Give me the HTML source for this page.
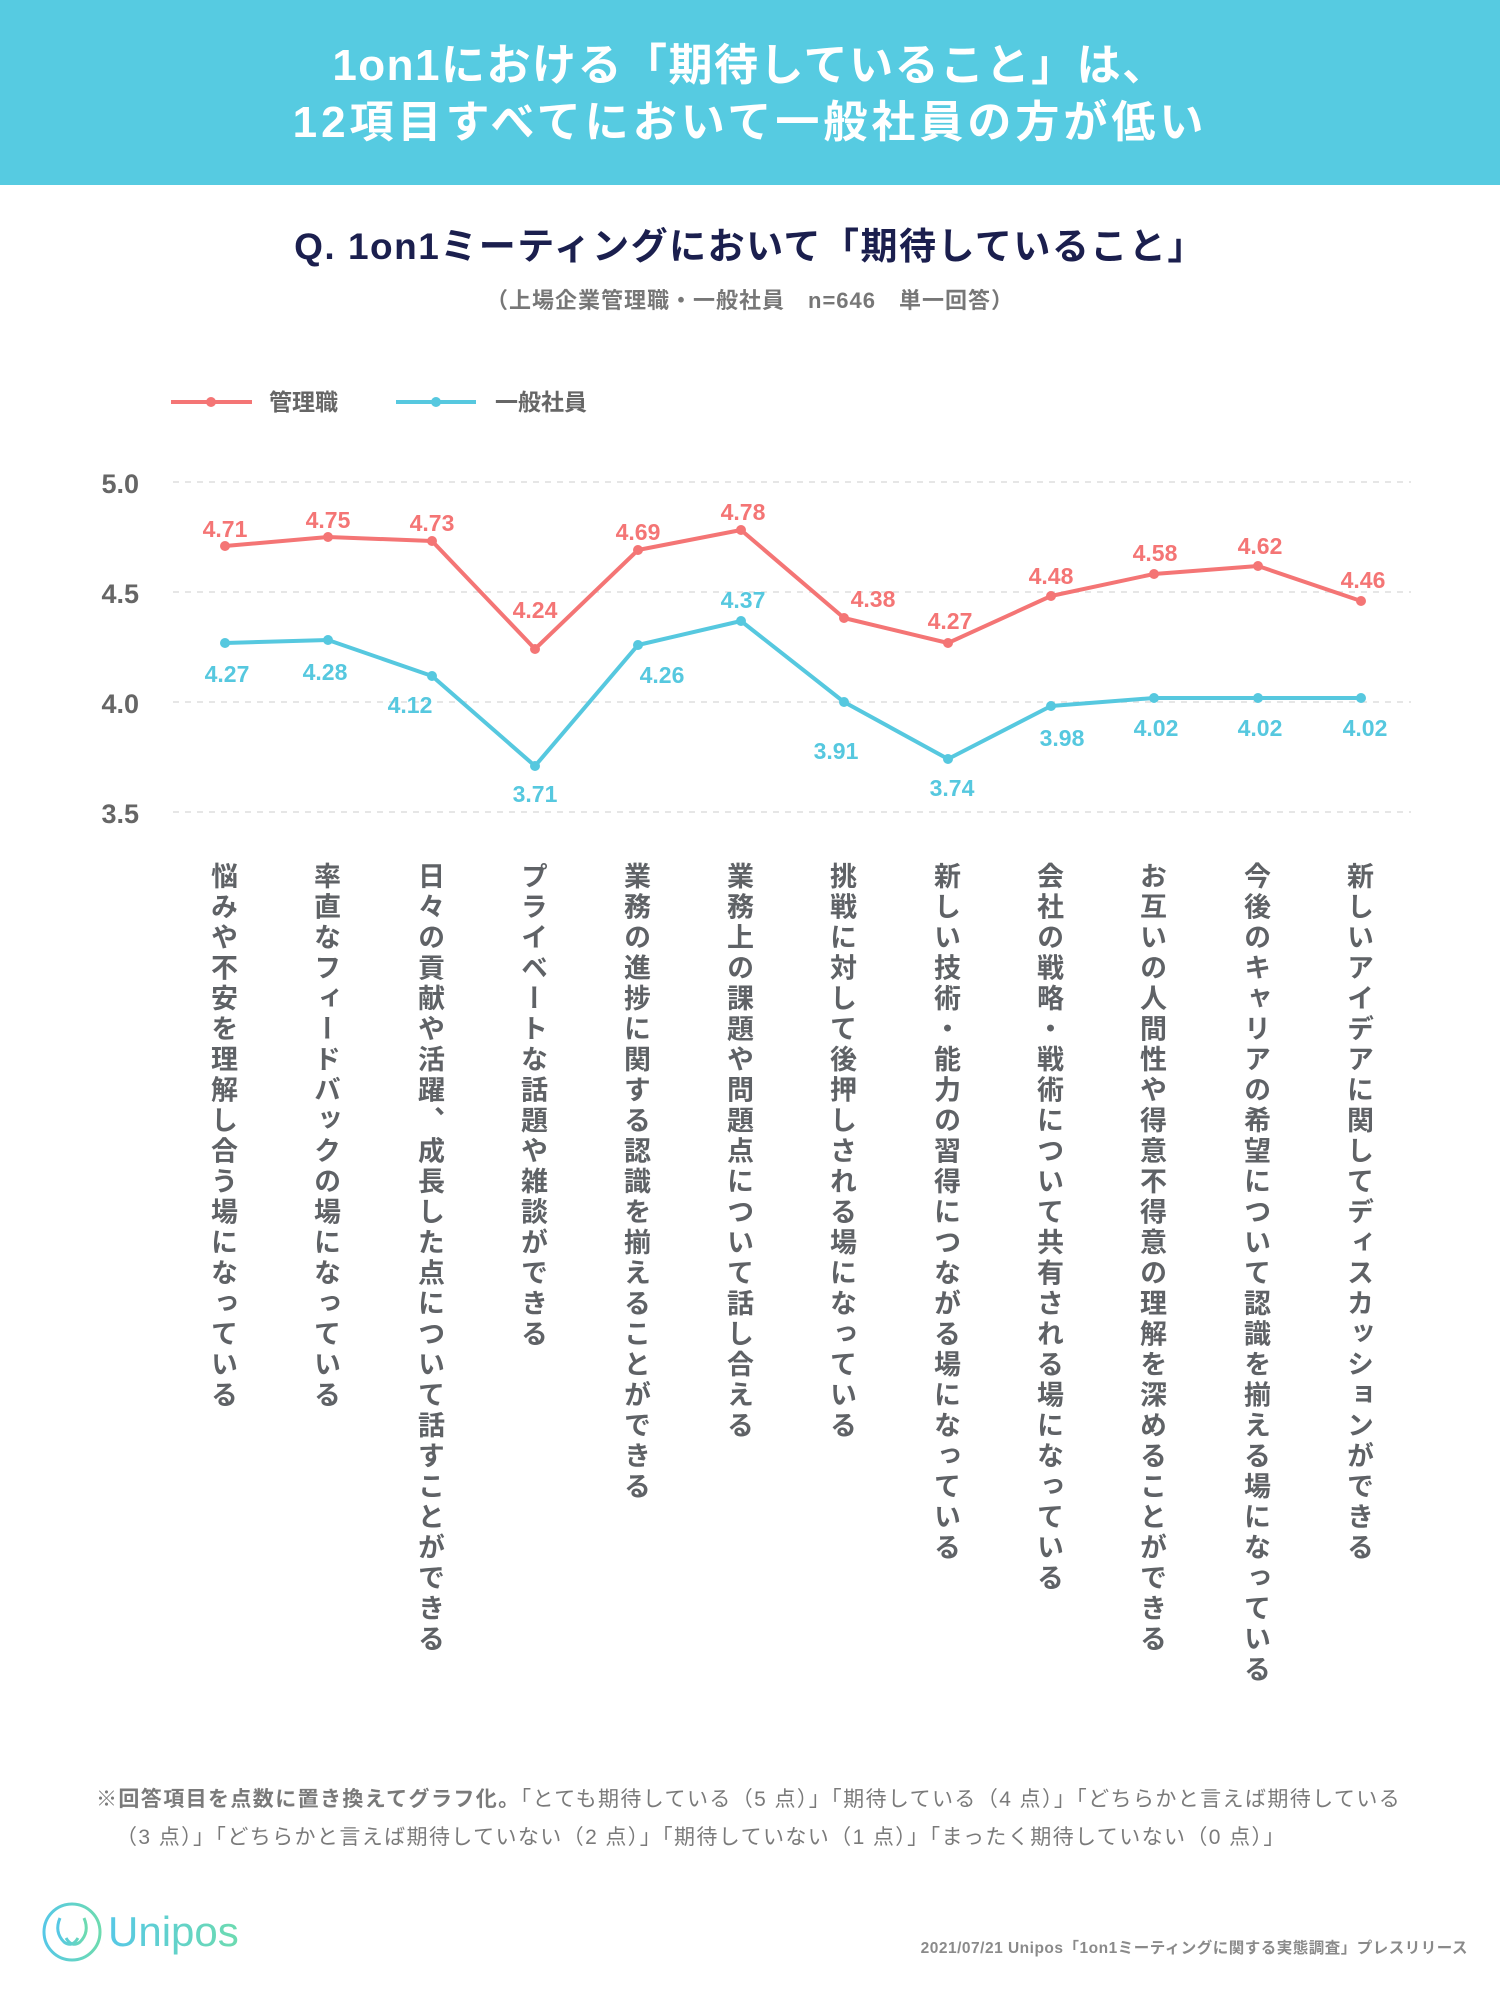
<!DOCTYPE html>
<html><head><meta charset="utf-8">
<style>
body{margin:0;width:1500px;height:1999px;background:#fff;position:relative;overflow:hidden;font-family:"Liberation Sans","Noto Sans CJK JP",sans-serif;}
.hdr{position:absolute;left:0;top:0;width:1500px;height:185px;background:#56cbe1;}
.t{position:absolute;left:0;width:1500px;text-align:center;color:#fff;font-weight:bold;font-size:44px;letter-spacing:4px;line-height:1;}
.q{position:absolute;left:0;width:1500px;text-align:center;color:#1b1f4e;font-weight:bold;font-size:37px;top:228px;line-height:1;letter-spacing:1.5px;}
.s{position:absolute;left:0;width:1500px;text-align:center;color:#777;font-weight:bold;font-size:22px;top:290px;line-height:1;letter-spacing:1px;}
.v{position:absolute;top:862px;writing-mode:vertical-rl;font-size:27px;letter-spacing:3.5px;color:#5f6266;font-weight:bold;line-height:1;}
.fn{position:absolute;left:96px;color:#7a7a7a;font-size:21px;letter-spacing:1.4px;line-height:1;white-space:nowrap;}
</style></head><body>
<div class="hdr"></div>
<div class="t" style="top:44px;letter-spacing:1.5px">1on1における「期待していること」は、</div>
<div class="t" style="top:101px">12項目すべてにおいて一般社員の方が低い</div>
<div class="q">Q. 1on1ミーティングにおいて「期待していること」</div>
<div class="s">（上場企業管理職・一般社員　n=646　単一回答）</div>
<svg width="1500" height="860" style="position:absolute;left:0;top:0" font-family="Liberation Sans, Noto Sans CJK JP, sans-serif">
<g stroke="#f47575" stroke-width="4"><line x1="171" y1="402" x2="252" y2="402"/></g><circle cx="211" cy="402" r="5" fill="#f47575"/>
<g stroke="#56c8df" stroke-width="4"><line x1="396" y1="402" x2="476" y2="402"/></g><circle cx="436" cy="402" r="5" fill="#56c8df"/>
<text x="269" y="410" font-size="23" font-weight="bold" fill="#666">管理職</text>
<text x="495" y="410" font-size="23" font-weight="bold" fill="#666">一般社員</text>
<g stroke="#e6e6e6" stroke-width="2" stroke-dasharray="6,6">
<line x1="173" y1="482" x2="1411" y2="482"/><line x1="173" y1="592" x2="1411" y2="592"/><line x1="173" y1="702" x2="1411" y2="702"/><line x1="173" y1="812" x2="1411" y2="812"/></g>
<g font-size="27" font-weight="bold" fill="#666" text-anchor="end">
<text x="139" y="493">5.0</text><text x="139" y="603">4.5</text><text x="139" y="713">4.0</text><text x="139" y="823">3.5</text></g>
<polyline fill="none" stroke="#f47575" stroke-width="4" stroke-linejoin="round" points="225,546 328,537 432,541 535,649 638,550 741,530 844,618 948,643 1051,596 1154,574 1258,566 1361,601"/>
<polyline fill="none" stroke="#56c8df" stroke-width="4" stroke-linejoin="round" points="225,643 328,640 432,676 535,766 638,645 741,621 844,702 948,759 1051,706 1154,698 1258,698 1361,698"/>
<g fill="#f47575"><circle cx="225" cy="546" r="5"/><circle cx="328" cy="537" r="5"/><circle cx="432" cy="541" r="5"/><circle cx="535" cy="649" r="5"/><circle cx="638" cy="550" r="5"/><circle cx="741" cy="530" r="5"/><circle cx="844" cy="618" r="5"/><circle cx="948" cy="643" r="5"/><circle cx="1051" cy="596" r="5"/><circle cx="1154" cy="574" r="5"/><circle cx="1258" cy="566" r="5"/><circle cx="1361" cy="601" r="5"/></g>
<g fill="#56c8df"><circle cx="225" cy="643" r="5"/><circle cx="328" cy="640" r="5"/><circle cx="432" cy="676" r="5"/><circle cx="535" cy="766" r="5"/><circle cx="638" cy="645" r="5"/><circle cx="741" cy="621" r="5"/><circle cx="844" cy="702" r="5"/><circle cx="948" cy="759" r="5"/><circle cx="1051" cy="706" r="5"/><circle cx="1154" cy="698" r="5"/><circle cx="1258" cy="698" r="5"/><circle cx="1361" cy="698" r="5"/></g>
<g font-size="23" font-weight="bold" fill="#f47575" text-anchor="middle">
<text x="225" y="537">4.71</text><text x="328" y="528">4.75</text><text x="432" y="531">4.73</text><text x="535" y="618">4.24</text><text x="638" y="540">4.69</text><text x="743" y="520">4.78</text><text x="873" y="607">4.38</text><text x="950" y="629">4.27</text><text x="1051" y="584">4.48</text><text x="1155" y="561">4.58</text><text x="1260" y="554">4.62</text><text x="1363" y="588">4.46</text></g>
<g font-size="23" font-weight="bold" fill="#56c8df" text-anchor="middle">
<text x="227" y="682">4.27</text><text x="325" y="680">4.28</text><text x="410" y="713">4.12</text><text x="535" y="802">3.71</text><text x="662" y="683">4.26</text><text x="743" y="608">4.37</text><text x="836" y="759">3.91</text><text x="952" y="796">3.74</text><text x="1062" y="746">3.98</text><text x="1156" y="736">4.02</text><text x="1260" y="736">4.02</text><text x="1365" y="736">4.02</text></g>
</svg>
<div class="v" style="left:208px">悩みや不安を理解し合う場になっている</div>
<div class="v" style="left:311px">率直なフィードバックの場になっている</div>
<div class="v" style="left:415px">日々の貢献や活躍、成長した点について話すことができる</div>
<div class="v" style="left:518px">プライベートな話題や雑談ができる</div>
<div class="v" style="left:621px">業務の進捗に関する認識を揃えることができる</div>
<div class="v" style="left:724px">業務上の課題や問題点について話し合える</div>
<div class="v" style="left:827px">挑戦に対して後押しされる場になっている</div>
<div class="v" style="left:931px">新しい技術・能力の習得につながる場になっている</div>
<div class="v" style="left:1034px">会社の戦略・戦術について共有される場になっている</div>
<div class="v" style="left:1137px">お互いの人間性や得意不得意の理解を深めることができる</div>
<div class="v" style="left:1241px">今後のキャリアの希望について認識を揃える場になっている</div>
<div class="v" style="left:1344px">新しいアイデアに関してディスカッションができる</div>
<div class="fn" style="top:1789px"><b>※回答項目を点数に置き換えてグラフ化。</b>「とても期待している（5 点）」「期待している（4 点）」「どちらかと言えば期待している</div>
<div class="fn" style="top:1827px;left:116px">（3 点）」「どちらかと言えば期待していない（2 点）」「期待していない（1 点）」「まったく期待していない（0 点）」</div>
<svg width="300" height="100" style="position:absolute;left:0;top:1880px">
<defs><linearGradient id="g" x1="0" x2="1"><stop offset="0" stop-color="#56c8e6"/><stop offset="1" stop-color="#6ddbb0"/></linearGradient></defs>
<circle cx="72" cy="52" r="28" fill="none" stroke="url(#g)" stroke-width="3"/>
<path d="M60 38 q-6 14 4 24 q8 6 14 -4 M84 38 q6 14 -4 24 q-8 6 -14 -4" fill="none" stroke="url(#g)" stroke-width="3"/>
<text x="108" y="66" font-size="42" fill="url(#g)" font-family="Liberation Sans, sans-serif">Unipos</text>
</svg>
<div style="position:absolute;right:32px;top:1936px;font-size:15.5px;font-weight:bold;color:#8a8a8a;white-space:nowrap;letter-spacing:0.5px;">2021/07/21 Unipos「1on1ミーティングに関する実態調査」プレスリリース</div>
</body></html>
